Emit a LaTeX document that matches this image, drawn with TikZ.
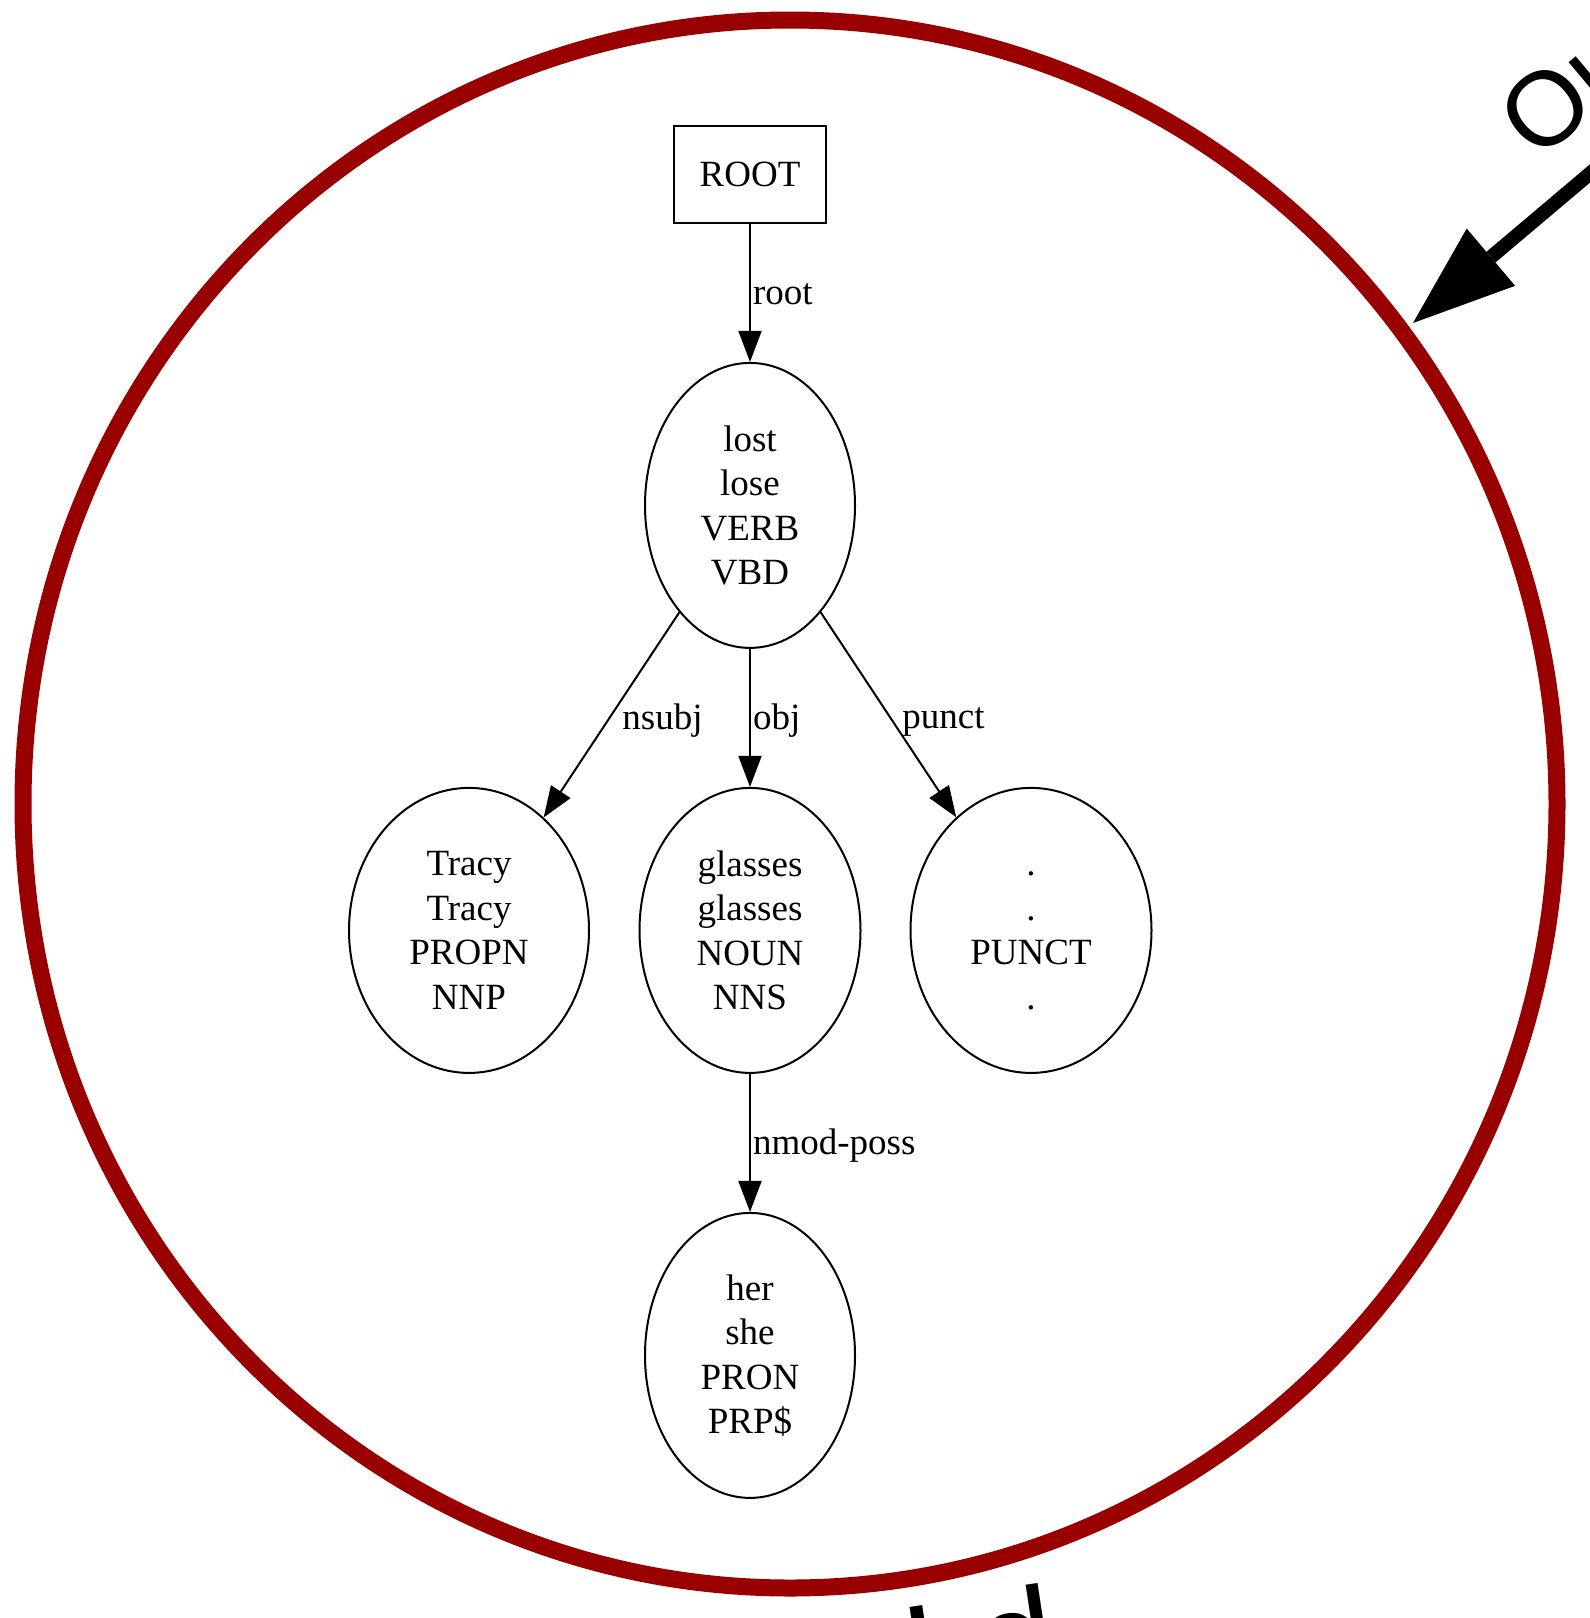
\documentclass[tikz,border=0pt]{standalone}
\usepackage{fontspec}
\setmainfont{Liberation Serif}
\newfontfamily\sansout{Liberation Sans}
\usepackage{tikz}
\usetikzlibrary{trees,shapes.geometric,arrows.meta}
\definecolor{ringred}{RGB}{153,0,0}
\begin{document}
\begin{tikzpicture}[x=1pt,y=-1pt,
  level 1/.style={level distance=331pt},
  level 2/.style={level distance=425pt, sibling distance=281pt},
  level 3/.style={level distance=425pt},
  every node/.style={inner sep=0pt, align=center, font=\fontsize{37}{44.5}\selectfont},
  tok/.style={ellipse, draw, line width=2pt, minimum width=210pt, minimum height=285pt},
  edge from parent/.style={draw, line width=2pt, -{Triangle[length=31pt,width=23pt]}},
  deplabel/.style={right, inner sep=2pt, yshift=-3pt}
  ]
  \useasboundingbox (0,0) rectangle (1590,1618);
  \clip (0,0) rectangle (1590,1618);
  \draw[ringred, line width=17pt] (790,804) ellipse [x radius=767, y radius=784];
  \node[draw, rectangle, line width=2.5pt, minimum width=152pt, minimum height=97pt] (root) at (750,174.4) {ROOT}
    child {
      node[tok] (lost) {lost\\lose\\VERB\\VBD}
      child {node[tok, minimum width=240pt] (tracy) {Tracy\\Tracy\\PROPN\\NNP}
        edge from parent node[deplabel, xshift=8pt, yshift=-3pt] {nsubj}}
      child {
        node[tok, minimum width=221pt] (glasses) {glasses\\glasses\\NOUN\\NNS}
        child {node[tok] (her) {her\\she\\PRON\\PRP\$}
          edge from parent node[deplabel] {nmod-poss}}
        edge from parent node[deplabel] {obj}
      }
      child {node[tok, minimum width=241pt] (dot) {.\vphantom{T}\\.\\PUNCT\\.}
        edge from parent node[deplabel, xshift=11pt, yshift=-4pt] {punct}}
      edge from parent node[deplabel, yshift=2pt] {root}
    };
  \coordinate (outtail) at (1600,165);
  \coordinate (outtip) at (1413,323);
  \draw[line width=14pt, -{Triangle[length=102pt,width=75pt,line width=0pt]}] (outtail) -- (outtip);
  \node[rotate=40, anchor=base west, font=\sansout\fontsize{105}{105}\selectfont] (outword) at (1537,162.5) {Output};
  \node[rotate=8.5, anchor=base west, font=\sansout\fontsize{137}{137}\selectfont] (inword) at (911,1703) {I d};
\end{tikzpicture}
\end{document}
